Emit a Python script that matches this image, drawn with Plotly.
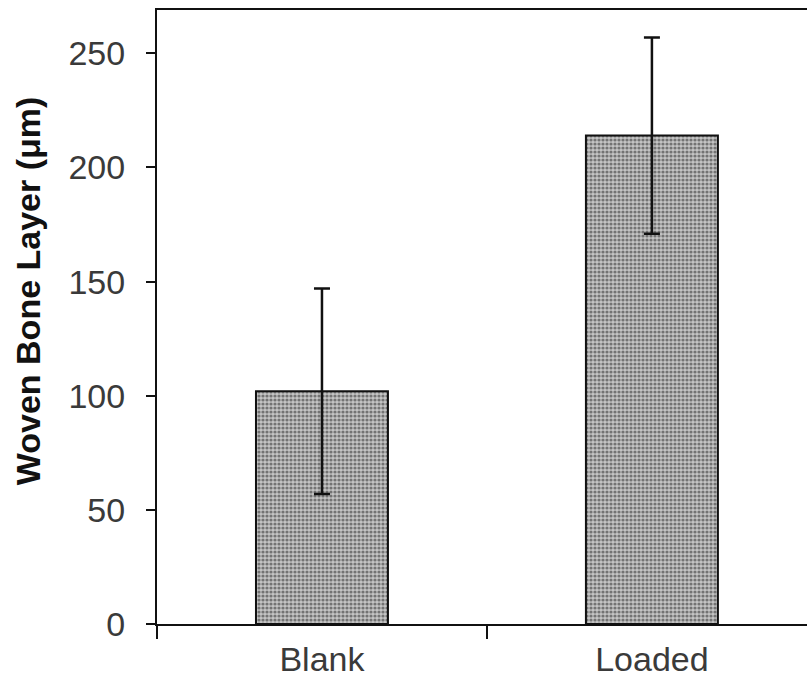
import plotly.graph_objects as go

# Woven bone layer thickness per group (mean ± SD, µm)
groups = ["Blank", "Loaded"]
layer_um = [102, 214]
layer_sd = [45, 43]
y_ticks = [0, 50, 100, 150, 200, 250]
y_title = "Woven Bone Layer (μm)"

fig = go.Figure(
    go.Bar(
        x=groups,
        y=layer_um,
        width=0.40,
        marker=dict(
            color="#9c9c9c",
            line=dict(color="#111111", width=2),
            pattern=dict(shape=".", fgcolor="#222222", bgcolor="#c4c4c4", size=4, solidity=0.5),
        ),
        error_y=dict(
            type="data",
            array=layer_sd,
            visible=True,
            color="#111111",
            thickness=2.5,
            width=8,
        ),
    )
)

fig.update_layout(
    width=807,
    height=687,
    margin=dict(l=157, r=0, t=10, b=63),
    plot_bgcolor="white",
    paper_bgcolor="white",
    showlegend=False,
    font=dict(family="Liberation Sans, Arial, sans-serif", size=34, color="#3a3a3a"),
)

fig.update_xaxes(
    range=[-0.5, 1.47],
    showline=True,
    linecolor="#111111",
    linewidth=2,
    mirror=True,
    ticks="outside",
    tickson="boundaries",
    ticklen=13,
    tickwidth=2,
    tickcolor="#111111",
    ticklabelstandoff=4,
    showgrid=False,
)

fig.update_yaxes(
    range=[0, 269],
    tickvals=y_ticks,
    ticks="outside",
    ticklen=9,
    tickwidth=2,
    tickcolor="#111111",
    ticklabelstandoff=14,
    showline=True,
    linewidth=2,
    linecolor="#111111",
    showgrid=False,
    zeroline=False,
)

# Rotated y-axis title, placed slightly above the axis midpoint
fig.add_annotation(
    text="<b>" + y_title + "</b>",
    textangle=-90,
    xref="paper",
    yref="paper",
    x=0,
    y=0.542,
    xshift=-129,
    xanchor="center",
    yanchor="middle",
    showarrow=False,
    font=dict(size=34, color="#111111"),
)

fig.write_html("out.html")
